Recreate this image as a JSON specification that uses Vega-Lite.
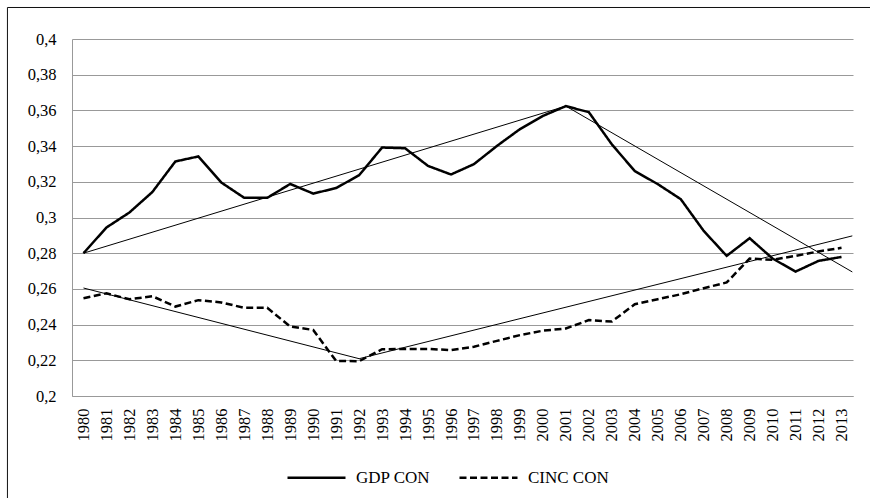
{
  "$schema": "https://vega.github.io/schema/vega-lite/v6.json",
  "width": 781,
  "height": 357,
  "autosize": "none",
  "padding": {"left": 72, "top": 39, "right": 17, "bottom": 102},
  "background": "white",
  "config": {
    "view": {"stroke": null},
    "font": "Liberation Serif",
    "axis": {"labelFont": "Liberation Serif"},
    "legend": {"labelFont": "Liberation Serif"}
  },
  "datasets": {
    "series": [
      {"year": 1980, "value": 0.2800, "series": "GDP CON"},
      {"year": 1981, "value": 0.2944, "series": "GDP CON"},
      {"year": 1982, "value": 0.3028, "series": "GDP CON"},
      {"year": 1983, "value": 0.3143, "series": "GDP CON"},
      {"year": 1984, "value": 0.3314, "series": "GDP CON"},
      {"year": 1985, "value": 0.3342, "series": "GDP CON"},
      {"year": 1986, "value": 0.3196, "series": "GDP CON"},
      {"year": 1987, "value": 0.3110, "series": "GDP CON"},
      {"year": 1988, "value": 0.3110, "series": "GDP CON"},
      {"year": 1989, "value": 0.3188, "series": "GDP CON"},
      {"year": 1990, "value": 0.3134, "series": "GDP CON"},
      {"year": 1991, "value": 0.3165, "series": "GDP CON"},
      {"year": 1992, "value": 0.3237, "series": "GDP CON"},
      {"year": 1993, "value": 0.3392, "series": "GDP CON"},
      {"year": 1994, "value": 0.3388, "series": "GDP CON"},
      {"year": 1995, "value": 0.3289, "series": "GDP CON"},
      {"year": 1996, "value": 0.3241, "series": "GDP CON"},
      {"year": 1997, "value": 0.3299, "series": "GDP CON"},
      {"year": 1998, "value": 0.3401, "series": "GDP CON"},
      {"year": 1999, "value": 0.3495, "series": "GDP CON"},
      {"year": 2000, "value": 0.3569, "series": "GDP CON"},
      {"year": 2001, "value": 0.3624, "series": "GDP CON"},
      {"year": 2002, "value": 0.3590, "series": "GDP CON"},
      {"year": 2003, "value": 0.3410, "series": "GDP CON"},
      {"year": 2004, "value": 0.3260, "series": "GDP CON"},
      {"year": 2005, "value": 0.3187, "series": "GDP CON"},
      {"year": 2006, "value": 0.3103, "series": "GDP CON"},
      {"year": 2007, "value": 0.2925, "series": "GDP CON"},
      {"year": 2008, "value": 0.2785, "series": "GDP CON"},
      {"year": 2009, "value": 0.2884, "series": "GDP CON"},
      {"year": 2010, "value": 0.2770, "series": "GDP CON"},
      {"year": 2011, "value": 0.2697, "series": "GDP CON"},
      {"year": 2012, "value": 0.2757, "series": "GDP CON"},
      {"year": 2013, "value": 0.2779, "series": "GDP CON"},
      {"year": 1980, "value": 0.2548, "series": "CINC CON"},
      {"year": 1981, "value": 0.2575, "series": "CINC CON"},
      {"year": 1982, "value": 0.2542, "series": "CINC CON"},
      {"year": 1983, "value": 0.2559, "series": "CINC CON"},
      {"year": 1984, "value": 0.2501, "series": "CINC CON"},
      {"year": 1985, "value": 0.2537, "series": "CINC CON"},
      {"year": 1986, "value": 0.2524, "series": "CINC CON"},
      {"year": 1987, "value": 0.2494, "series": "CINC CON"},
      {"year": 1988, "value": 0.2494, "series": "CINC CON"},
      {"year": 1989, "value": 0.2389, "series": "CINC CON"},
      {"year": 1990, "value": 0.2370, "series": "CINC CON"},
      {"year": 1991, "value": 0.2196, "series": "CINC CON"},
      {"year": 1992, "value": 0.2195, "series": "CINC CON"},
      {"year": 1993, "value": 0.2262, "series": "CINC CON"},
      {"year": 1994, "value": 0.2264, "series": "CINC CON"},
      {"year": 1995, "value": 0.2264, "series": "CINC CON"},
      {"year": 1996, "value": 0.2257, "series": "CINC CON"},
      {"year": 1997, "value": 0.2276, "series": "CINC CON"},
      {"year": 1998, "value": 0.2309, "series": "CINC CON"},
      {"year": 1999, "value": 0.2341, "series": "CINC CON"},
      {"year": 2000, "value": 0.2366, "series": "CINC CON"},
      {"year": 2001, "value": 0.2378, "series": "CINC CON"},
      {"year": 2002, "value": 0.2425, "series": "CINC CON"},
      {"year": 2003, "value": 0.2417, "series": "CINC CON"},
      {"year": 2004, "value": 0.2514, "series": "CINC CON"},
      {"year": 2005, "value": 0.2542, "series": "CINC CON"},
      {"year": 2006, "value": 0.2570, "series": "CINC CON"},
      {"year": 2007, "value": 0.2604, "series": "CINC CON"},
      {"year": 2008, "value": 0.2636, "series": "CINC CON"},
      {"year": 2009, "value": 0.2770, "series": "CINC CON"},
      {"year": 2010, "value": 0.2763, "series": "CINC CON"},
      {"year": 2011, "value": 0.2785, "series": "CINC CON"},
      {"year": 2012, "value": 0.2810, "series": "CINC CON"},
      {"year": 2013, "value": 0.2830, "series": "CINC CON"}
    ],
    "trends": [
      {"year": 1980, "value": 0.2800, "seg": "GDP up"},
      {"year": 2001, "value": 0.3624, "seg": "GDP up"},
      {"year": 2001, "value": 0.3624, "seg": "GDP down"},
      {"year": 2013.47, "value": 0.2695, "seg": "GDP down"},
      {"year": 1980, "value": 0.2605, "seg": "CINC down"},
      {"year": 1992, "value": 0.2209, "seg": "CINC down"},
      {"year": 1992, "value": 0.2209, "seg": "CINC up"},
      {"year": 2013.47, "value": 0.2897, "seg": "CINC up"}
    ]
  },
  "layer": [
    {
      "data": {"values": [{}]},
      "mark": {"type": "rule", "color": "#111", "strokeWidth": 1},
      "encoding": {
        "x": {"datum": 1976.69, "type": "quantitative", "scale": {"domain": [1979.5, 2013.5], "nice": false, "zero": false},
          "axis": {"title": null, "values": [1980, 1981, 1982, 1983, 1984, 1985, 1986, 1987, 1988, 1989, 1990, 1991, 1992, 1993, 1994, 1995, 1996, 1997, 1998, 1999, 2000, 2001, 2002, 2003, 2004, 2005, 2006, 2007, 2008, 2009, 2010, 2011, 2012, 2013], "format": "d", "labelAngle": -90, "labelFlush": false, "labelOverlap": false, "ticks": false, "grid": false, "domain": true, "domainColor": "#999", "labelPadding": 12, "labelFont": "Liberation Serif", "labelFontSize": 16.5, "labelColor": "#000"}},
        "y": {"datum": 0.41765, "type": "quantitative", "scale": {"domain": [0.2, 0.4], "nice": false, "zero": false},
          "axis": {"title": null, "values": [0.2, 0.22, 0.24, 0.26, 0.28, 0.3, 0.32, 0.34, 0.36, 0.38, 0.4], "labelExpr": "replace(format(datum.value, '~g'), '.', ',')", "grid": true, "gridColor": "#999", "gridWidth": 1, "ticks": false, "domain": true, "domainColor": "#999", "labelPadding": 16, "labelFont": "Liberation Serif", "labelFontSize": 16.5, "labelColor": "#000", "labelFlush": false}},
        "y2": {"datum": 0.1}
      }
    },
    {
      "data": {"values": [{}]},
      "mark": {"type": "rule", "color": "#111", "strokeWidth": 1},
      "encoding": {
        "x": {"datum": 1976.69, "type": "quantitative", "scale": {"domain": [1979.5, 2013.5], "nice": false, "zero": false},
          "axis": {"title": null, "values": [1980, 1981, 1982, 1983, 1984, 1985, 1986, 1987, 1988, 1989, 1990, 1991, 1992, 1993, 1994, 1995, 1996, 1997, 1998, 1999, 2000, 2001, 2002, 2003, 2004, 2005, 2006, 2007, 2008, 2009, 2010, 2011, 2012, 2013], "format": "d", "labelAngle": -90, "labelFlush": false, "labelOverlap": false, "ticks": false, "grid": false, "domain": true, "domainColor": "#999", "labelPadding": 12, "labelFont": "Liberation Serif", "labelFontSize": 16.5, "labelColor": "#000"}},
        "x2": {"datum": 2020},
        "y": {"datum": 0.41765, "type": "quantitative", "scale": {"domain": [0.2, 0.4], "nice": false, "zero": false},
          "axis": {"title": null, "values": [0.2, 0.22, 0.24, 0.26, 0.28, 0.3, 0.32, 0.34, 0.36, 0.38, 0.4], "labelExpr": "replace(format(datum.value, '~g'), '.', ',')", "grid": true, "gridColor": "#999", "gridWidth": 1, "ticks": false, "domain": true, "domainColor": "#999", "labelPadding": 16, "labelFont": "Liberation Serif", "labelFontSize": 16.5, "labelColor": "#000", "labelFlush": false}}
      }
    },
    {
      "data": {"name": "trends"},
      "mark": {"type": "line", "color": "#000", "strokeWidth": 1},
      "encoding": {
        "x": {"field": "year", "type": "quantitative", "scale": {"domain": [1979.5, 2013.5], "nice": false, "zero": false},
          "axis": {"title": null, "values": [1980, 1981, 1982, 1983, 1984, 1985, 1986, 1987, 1988, 1989, 1990, 1991, 1992, 1993, 1994, 1995, 1996, 1997, 1998, 1999, 2000, 2001, 2002, 2003, 2004, 2005, 2006, 2007, 2008, 2009, 2010, 2011, 2012, 2013], "format": "d", "labelAngle": -90, "labelFlush": false, "labelOverlap": false, "ticks": false, "grid": false, "domain": true, "domainColor": "#999", "labelPadding": 12, "labelFont": "Liberation Serif", "labelFontSize": 16.5, "labelColor": "#000"}},
        "y": {"field": "value", "type": "quantitative", "scale": {"domain": [0.2, 0.4], "nice": false, "zero": false},
          "axis": {"title": null, "values": [0.2, 0.22, 0.24, 0.26, 0.28, 0.3, 0.32, 0.34, 0.36, 0.38, 0.4], "labelExpr": "replace(format(datum.value, '~g'), '.', ',')", "grid": true, "gridColor": "#999", "gridWidth": 1, "ticks": false, "domain": true, "domainColor": "#999", "labelPadding": 16, "labelFont": "Liberation Serif", "labelFontSize": 16.5, "labelColor": "#000", "labelFlush": false}},
        "detail": {"field": "seg", "type": "nominal"}
      }
    },
    {
      "data": {"name": "series"},
      "mark": {"type": "line", "color": "#000", "strokeWidth": 2.5},
      "encoding": {
        "x": {"field": "year", "type": "quantitative", "scale": {"domain": [1979.5, 2013.5], "nice": false, "zero": false},
          "axis": {"title": null, "values": [1980, 1981, 1982, 1983, 1984, 1985, 1986, 1987, 1988, 1989, 1990, 1991, 1992, 1993, 1994, 1995, 1996, 1997, 1998, 1999, 2000, 2001, 2002, 2003, 2004, 2005, 2006, 2007, 2008, 2009, 2010, 2011, 2012, 2013], "format": "d", "labelAngle": -90, "labelFlush": false, "labelOverlap": false, "ticks": false, "grid": false, "domain": true, "domainColor": "#999", "labelPadding": 12, "labelFont": "Liberation Serif", "labelFontSize": 16.5, "labelColor": "#000"}},
        "y": {"field": "value", "type": "quantitative", "scale": {"domain": [0.2, 0.4], "nice": false, "zero": false},
          "axis": {"title": null, "values": [0.2, 0.22, 0.24, 0.26, 0.28, 0.3, 0.32, 0.34, 0.36, 0.38, 0.4], "labelExpr": "replace(format(datum.value, '~g'), '.', ',')", "grid": true, "gridColor": "#999", "gridWidth": 1, "ticks": false, "domain": true, "domainColor": "#999", "labelPadding": 16, "labelFont": "Liberation Serif", "labelFontSize": 16.5, "labelColor": "#000", "labelFlush": false}},
        "strokeDash": {
          "field": "series", "type": "nominal",
          "scale": {"domain": ["GDP CON", "CINC CON"], "range": [[1, 0], [7, 3.5]]},
          "legend": {
            "orient": "none",
            "legendX": 214,
            "legendY": 408,
            "direction": "horizontal",
            "title": null,
            "symbolType": "stroke",
            "symbolSize": 3364,
            "symbolStrokeWidth": 2.5,
            "symbolStrokeColor": "#000",
            "labelFont": "Liberation Serif",
            "labelFontSize": 17,
            "labelColor": "#000",
            "labelOffset": 9,
            "columnPadding": 23
          }
        }
      }
    }
  ]
}
